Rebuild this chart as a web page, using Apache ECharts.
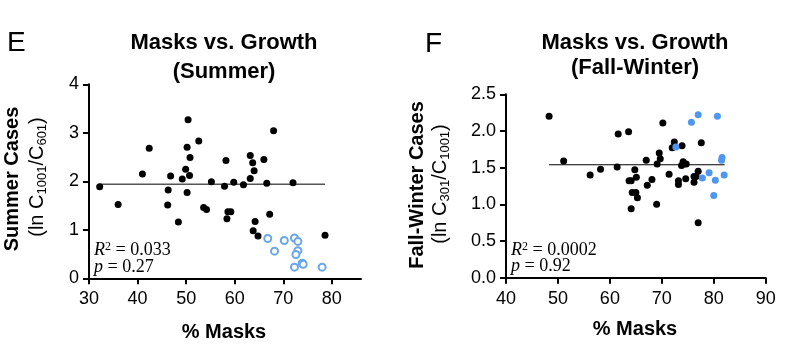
<!DOCTYPE html>
<html>
<head>
<meta charset="utf-8">
<script src="https://cdn.jsdelivr.net/npm/echarts@6/dist/echarts.min.js"></script>
<style>
  html, body { margin: 0; padding: 0; background: #fff; }
  #chart { width: 802px; height: 353px; }
</style>
</head>
<body>
<div id="chart"></div>
<script>
// Panel E - Summer
var summerBlack = [
  [32.2, 1.89], [36.0, 1.52], [41.0, 2.15], [42.4, 2.68], [46.3, 1.82], [46.2, 1.51],
  [46.8, 2.11], [48.4, 1.16], [49.2, 2.05], [49.9, 2.25], [50.2, 2.70], [50.2, 1.77],
  [50.4, 3.27], [50.7, 2.12], [50.8, 2.49], [52.6, 2.83], [53.6, 1.46], [54.2, 1.42],
  [55.2, 1.99], [57.9, 1.90], [58.2, 2.43], [58.4, 1.23], [58.6, 1.37], [59.2, 1.37],
  [59.8, 1.98], [61.8, 1.93], [63.2, 2.53], [63.2, 2.06], [63.7, 2.38], [64.0, 2.22],
  [63.8, 0.98], [64.2, 1.17], [64.8, 0.87], [66.0, 2.45], [66.6, 1.96], [67.2, 1.32],
  [68.0, 3.04], [72.0, 1.97], [78.6, 0.89]
];
var summerBlue = [
  [66.8, 0.82], [68.2, 0.56], [70.2, 0.78], [72.3, 0.83], [73.0, 0.76], [73.0, 0.57],
  [72.6, 0.49], [72.3, 0.23], [73.9, 0.31], [74.1, 0.29], [78.0, 0.23]
];
var summerFit = [[32.2, 1.94], [78.6, 1.94]];

// Panel F - Fall-Winter
var fallBlack = [
  [48.3, 2.20], [51.1, 1.59], [56.2, 1.40], [58.2, 1.48], [61.4, 1.51], [61.6, 1.96],
  [63.6, 1.99], [63.7, 1.32], [64.1, 1.32], [64.1, 0.94], [64.3, 1.16], [64.8, 1.47],
  [65.0, 1.16], [65.1, 1.37], [65.3, 1.09], [67.0, 1.60], [67.2, 1.26], [68.1, 1.34],
  [69.0, 1.00], [69.1, 1.55], [69.5, 1.70], [69.7, 1.62], [70.2, 2.11], [71.4, 1.41],
  [72.0, 1.77], [72.4, 1.85], [73.2, 1.32], [73.2, 1.27], [73.8, 1.53], [73.9, 1.80],
  [74.1, 1.58], [74.3, 1.55], [74.6, 1.35], [74.7, 1.55], [76.2, 1.38], [76.2, 1.30],
  [76.6, 1.38], [77.0, 1.45], [77.0, 0.75], [77.6, 1.84]
];
var fallBlue = [
  [72.7, 1.78], [75.7, 2.12], [77.0, 2.22], [77.8, 1.36], [79.1, 1.43], [80.3, 1.33],
  [80.0, 1.12], [80.7, 2.20], [81.5, 1.60], [81.6, 1.64], [82.0, 1.40]
];
var fallFit = [[48.3, 1.54], [82.1, 1.54]];

var summerXTicks = [30, 40, 50, 60, 70, 80];
var fallXTicks = [40, 50, 60, 70, 80, 90];

var font = "'Liberation Sans', Arial, sans-serif";
var serif = "'Liberation Serif', 'DejaVu Serif', serif";

function xAxisOf(grid, min, max, ticks) {
  return {
    type: "value",
    gridIndex: grid,
    min: min,
    max: max,
    interval: 10,
    splitLine: { show: false },
    axisLine: { show: true, lineStyle: { color: "#000", width: 2 } },
    axisTick: { show: true, length: 6, lineStyle: { color: "#000", width: 2 }, customValues: ticks },
    axisLabel: { color: "#000", fontSize: 18, fontFamily: font, margin: 12, customValues: ticks }
  };
}
function yAxisOf(grid, max, interval, fmt) {
  return {
    type: "value",
    gridIndex: grid,
    min: 0,
    max: max,
    interval: interval,
    splitLine: { show: false },
    axisLine: { show: true, lineStyle: { color: "#000", width: 2 } },
    axisTick: { show: true, length: 6, lineStyle: { color: "#000", width: 2 } },
    axisLabel: { color: "#000", fontSize: 18, fontFamily: font, margin: 10, formatter: fmt }
  };
}

var subRich = {
  sub: { fontSize: 13, fontFamily: font, fill: "#000", verticalAlign: "bottom", lineHeight: 24 }
};
var statRich = {
  i: { fontSize: 18, fontFamily: serif, fontStyle: "italic", fill: "#000" },
  sup: { fontSize: 12, fontFamily: serif, fill: "#000", verticalAlign: "top", lineHeight: 19 }
};

var chart = echarts.init(document.getElementById("chart"));
chart.setOption({
  animation: false,
  grid: [
    { left: 89, top: 84.3, width: 272, height: 194 },
    { left: 506, top: 94.3, width: 259.7, height: 183.4 }
  ],
  xAxis: [xAxisOf(0, 30, 86, summerXTicks), xAxisOf(1, 40, 90, fallXTicks)],
  yAxis: [
    yAxisOf(0, 4, 1, function (v) { return v; }),
    yAxisOf(1, 2.5, 0.5, function (v) { return v.toFixed(1); })
  ],
  series: [
    {
      type: "line", xAxisIndex: 0, yAxisIndex: 0, data: summerFit, symbol: "none",
      lineStyle: { color: "#555", width: 1.5 }, z: 1
    },
    {
      type: "scatter", xAxisIndex: 0, yAxisIndex: 0, data: summerBlack, symbolSize: 7,
      itemStyle: { color: "#000", opacity: 1 }, z: 3
    },
    {
      type: "scatter", xAxisIndex: 0, yAxisIndex: 0, data: summerBlue, symbol: "emptyCircle",
      symbolSize: 7, itemStyle: { color: "#6aa6ea", borderWidth: 1.2, opacity: 1 }, z: 3
    },
    {
      type: "line", xAxisIndex: 1, yAxisIndex: 1, data: fallFit, symbol: "none",
      lineStyle: { color: "#000", width: 1.2 }, z: 1
    },
    {
      type: "scatter", xAxisIndex: 1, yAxisIndex: 1, data: fallBlack, symbolSize: 7,
      itemStyle: { color: "#000", opacity: 1 }, z: 3
    },
    {
      type: "scatter", xAxisIndex: 1, yAxisIndex: 1, data: fallBlue, symbolSize: 7,
      itemStyle: { color: "#4f97ee", opacity: 1 }, z: 3
    }
  ],
  graphic: [
    // panel letters
    { type: "text", x: 7, y: 43, style: { text: "E", font: "28px " + font, fill: "#000", textVerticalAlign: "middle" } },
    { type: "text", x: 425, y: 44, style: { text: "F", font: "28px " + font, fill: "#000", textVerticalAlign: "middle" } },
    // titles
    { type: "text", x: 224, y: 43, style: { text: "Masks vs. Growth", font: "bold 22px " + font, fill: "#000", textAlign: "center", textVerticalAlign: "middle" } },
    { type: "text", x: 224, y: 72, style: { text: "(Summer)", font: "bold 22px " + font, fill: "#000", textAlign: "center", textVerticalAlign: "middle" } },
    { type: "text", x: 635, y: 43, style: { text: "Masks vs. Growth", font: "bold 22px " + font, fill: "#000", textAlign: "center", textVerticalAlign: "middle" } },
    { type: "text", x: 635, y: 68, style: { text: "(Fall-Winter)", font: "bold 22px " + font, fill: "#000", textAlign: "center", textVerticalAlign: "middle" } },
    // x axis names
    { type: "text", x: 224, y: 332, style: { text: "% Masks", font: "bold 20px " + font, fill: "#000", textAlign: "center", textVerticalAlign: "middle" } },
    { type: "text", x: 635, y: 329, style: { text: "% Masks", font: "bold 20px " + font, fill: "#000", textAlign: "center", textVerticalAlign: "middle" } },
    // y axis names
    { type: "text", x: 12, y: 179, rotation: Math.PI / 2, style: { text: "Summer Cases", font: "bold 20px " + font, fill: "#000", textAlign: "center", textVerticalAlign: "middle" } },
    { type: "text", x: 37, y: 177, rotation: Math.PI / 2, style: { text: "(ln C{sub|1001}/C{sub|601})", font: "20px " + font, fill: "#000", textAlign: "center", textVerticalAlign: "middle", rich: subRich } },
    { type: "text", x: 417, y: 185, rotation: Math.PI / 2, style: { text: "Fall-Winter Cases", font: "bold 20px " + font, fill: "#000", textAlign: "center", textVerticalAlign: "middle" } },
    { type: "text", x: 440, y: 184, rotation: Math.PI / 2, style: { text: "(ln C{sub|301}/C{sub|1001})", font: "20px " + font, fill: "#000", textAlign: "center", textVerticalAlign: "middle", rich: subRich } },
    // statistics
    { type: "text", x: 94, y: 250, style: { text: "{i|R}{sup|2} = 0.033", font: "18px " + serif, fill: "#000", textVerticalAlign: "middle", rich: statRich } },
    { type: "text", x: 94, y: 267, style: { text: "{i|p} = 0.27", font: "18px " + serif, fill: "#000", textVerticalAlign: "middle", rich: statRich } },
    { type: "text", x: 511, y: 250, style: { text: "{i|R}{sup|2} = 0.0002", font: "18px " + serif, fill: "#000", textVerticalAlign: "middle", rich: statRich } },
    { type: "text", x: 511, y: 266, style: { text: "{i|p} = 0.92", font: "18px " + serif, fill: "#000", textVerticalAlign: "middle", rich: statRich } }
  ]
});
</script>
</body>
</html>
